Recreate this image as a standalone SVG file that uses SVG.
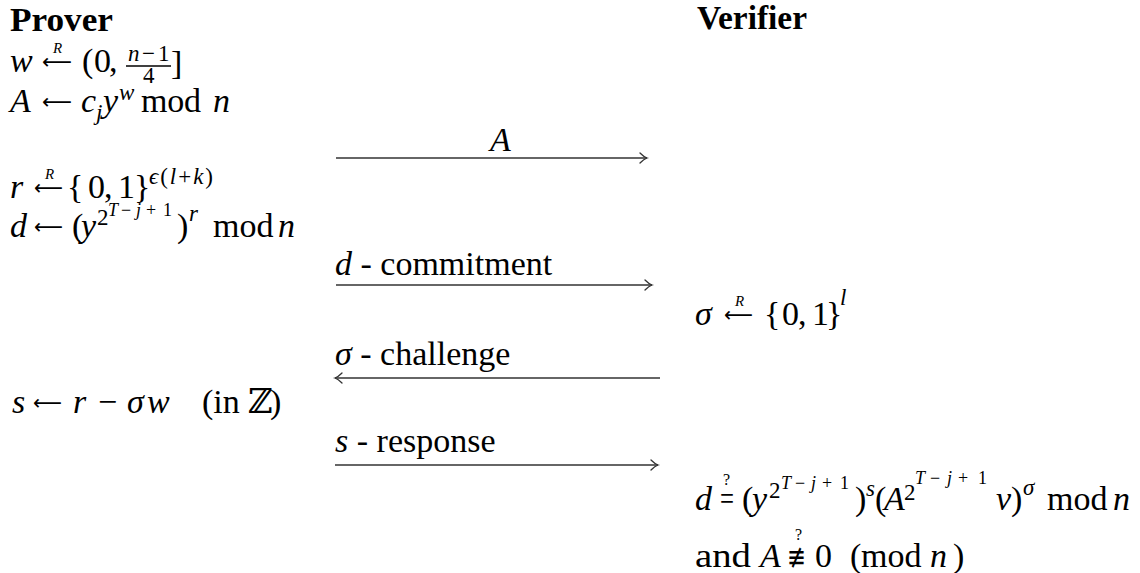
<svg xmlns="http://www.w3.org/2000/svg" width="1140" height="573" viewBox="0 0 1140 573">
<style>
text { font-family: "Liberation Serif", "DejaVu Serif", serif; font-size: 34px; fill: #000; }
.i { font-style: italic; }
.b { font-weight: bold; font-size: 34px; }
.s { font-size: 23px; }
.ss { font-size: 18px; }
.r { font-size: 15px; font-style: italic; }
.q { font-size: 16px; }
.sym { font-family: "DejaVu Sans", sans-serif; font-size: 30px; }
.la { font-family: "DejaVu Sans", sans-serif; font-size: 21px; }
.ar { stroke: #333; stroke-width: 1.4; fill: none; }
.head { stroke: #333; stroke-width: 1.3; fill: none; stroke-linecap: round; }
</style>
<defs>
<marker id="ah" markerWidth="12" markerHeight="12" refX="9" refY="6" orient="auto" markerUnits="userSpaceOnUse">
<path class="head" d="M2,1 Q6,5 9,6 Q6,7 2,11"/>
</marker>
</defs>
<rect width="1140" height="573" fill="#fff"/>

<g id="prover">
<text class="b" x="10" y="31" textLength="103" lengthAdjust="spacingAndGlyphs">Prover</text>
<!-- w <-R (0, (n-1)/4] -->
<text class="i" x="10" y="72">w</text>
<text class="la" x="42" y="69" textLength="30" lengthAdjust="spacingAndGlyphs">⟵</text>
<text class="r" x="53" y="53">R</text>
<text x="82" y="72">(</text>
<text x="94" y="72">0</text>
<text x="109" y="72">,</text>
<text class="s i" x="128" y="61">n</text>
<text class="s" x="142" y="61">−</text>
<text class="s" x="158" y="61">1</text>
<line x1="126" y1="66" x2="171" y2="66" stroke="#000" stroke-width="1.3"/>
<text class="s" x="143" y="83">4</text>
<text x="171" y="74" font-size="37">]</text>
<!-- A <- c_j y^w mod n -->
<text class="i" x="10" y="112">A</text>
<text class="la" x="42" y="109" textLength="30" lengthAdjust="spacingAndGlyphs">⟵</text>
<text class="i" x="81" y="112">c</text>
<text class="s i" x="96" y="120">j</text>
<text class="i" x="103" y="112">y</text>
<text class="s i" x="119" y="100">w</text>
<text x="141" y="112" textLength="60">mod</text>
<text class="i" x="213" y="112">n</text>
<!-- r <-R {0,1}^{eps(l+k)} -->
<text class="i" x="10" y="198">r</text>
<text class="la" x="34" y="195" textLength="29" lengthAdjust="spacingAndGlyphs">⟵</text>
<text class="r" x="45" y="179">R</text>
<text x="67" y="198">{</text>
<text x="88" y="198">0</text>
<text x="104" y="198">,</text>
<text x="118" y="198">1</text>
<text x="134" y="198">}</text>
<text class="s" x="149" y="184" textLength="64"><tspan class="i">ϵ</tspan>(<tspan class="i">l</tspan>+<tspan class="i">k</tspan>)</text>
<!-- d <- (y^{2^{T-j+1}})^r mod n -->
<text class="i" x="10" y="237">d</text>
<text class="la" x="34" y="234" textLength="29" lengthAdjust="spacingAndGlyphs">⟵</text>
<text x="72" y="237">(</text>
<text class="i" x="81" y="237">y</text>
<text class="s" x="97" y="225">2</text>
<text class="ss i" x="108" y="216">T</text>
<text class="ss" x="121" y="216">−</text>
<text class="ss i" x="136" y="216">j</text>
<text class="ss" x="146" y="216">+</text>
<text class="ss" x="163" y="216">1</text>
<text x="177" y="237">)</text>
<text class="s i" x="189" y="221">r</text>
<text x="213" y="237">mod</text>
<text class="i" x="278" y="237">n</text>
<!-- s <- r - sigma w (in Z) -->
<text class="i" x="12" y="413">s</text>
<text class="la" x="33" y="410" textLength="29" lengthAdjust="spacingAndGlyphs">⟵</text>
<text class="i" x="73" y="413">r</text>
<text x="98" y="413">−</text>
<text class="i" x="127" y="413">σ</text>
<text class="i" x="147" y="413">w</text>
<text x="202" y="413">(in</text>
<text x="248" y="413">ℤ</text>
<text x="270" y="413">)</text>
</g>

<g id="verifier">
<text class="b" x="697" y="29" textLength="110" lengthAdjust="spacingAndGlyphs">Verifier</text>
<!-- sigma <-R {0,1}^l -->
<text class="i" x="695" y="325">σ</text>
<text class="la" x="724" y="322" textLength="29" lengthAdjust="spacingAndGlyphs">⟵</text>
<text class="r" x="735" y="306">R</text>
<text x="764" y="325">{</text>
<text x="782" y="325">0</text>
<text x="798" y="325">,</text>
<text x="812" y="325">1</text>
<text x="826" y="325">}</text>
<text class="s i" x="840" y="305">l</text>
<!-- d =? (y^{2^{T-j+1}})^s (A^{2^{T-j+1}} v)^sigma mod n -->
<text class="i" x="695" y="510">d</text>
<text x="720" y="510" textLength="14" lengthAdjust="spacingAndGlyphs">=</text>
<text class="q" x="723" y="485">?</text>
<text x="742" y="510">(</text>
<text class="i" x="752" y="510">y</text>
<text class="s" x="769" y="498">2</text>
<text class="ss i" x="781" y="489">T</text>
<text class="ss" x="795" y="489">−</text>
<text class="ss i" x="811" y="489">j</text>
<text class="ss" x="822" y="489">+</text>
<text class="ss" x="840" y="489">1</text>
<text x="855" y="510">)</text>
<text class="s i" x="866" y="496">s</text>
<text x="875" y="510">(</text>
<text class="i" x="884" y="510">A</text>
<text class="s" x="904" y="500">2</text>
<text class="ss i" x="915" y="484">T</text>
<text class="ss" x="930" y="484">−</text>
<text class="ss i" x="947" y="484">j</text>
<text class="ss" x="958" y="484">+</text>
<text class="ss" x="978" y="484">1</text>
<text class="i" x="996" y="510">v</text>
<text x="1011" y="510">)</text>
<text class="s i" x="1023" y="495">σ</text>
<text x="1047" y="510">mod</text>
<text class="i" x="1113" y="510">n</text>
<!-- and A !== 0 (mod n) -->
<text x="695" y="567" textLength="56" lengthAdjust="spacingAndGlyphs">and</text>
<text class="i" x="760" y="567">A</text>
<text class="sym" x="787" y="567" textLength="19" lengthAdjust="spacingAndGlyphs">≢</text>
<text class="q" x="795" y="540">?</text>
<text x="815" y="567">0</text>
<text x="850" y="567">(</text>
<text x="861" y="567">mod</text>
<text class="i" x="930" y="567">n</text>
<text x="953" y="567">)</text>
</g>

<g id="connectors">
<g id="msg-A">
<line class="ar" x1="336" y1="158" x2="647" y2="158" marker-end="url(#ah)"/>
<text class="i" x="490" y="151">A</text>
</g>
<g id="msg-d">
<line class="ar" x1="336" y1="285" x2="652" y2="285" marker-end="url(#ah)"/>
<text x="335" y="275"><tspan class="i">d</tspan> - commitment</text>
</g>
<g id="msg-sigma">
<line class="ar" x1="660" y1="378" x2="335" y2="378" marker-end="url(#ah)"/>
<text x="335" y="365"><tspan class="i">σ</tspan> - challenge</text>
</g>
<g id="msg-s">
<line class="ar" x1="335" y1="465" x2="658" y2="465" marker-end="url(#ah)"/>
<text x="335" y="452"><tspan class="i">s</tspan> - response</text>
</g>
</g>
</svg>
